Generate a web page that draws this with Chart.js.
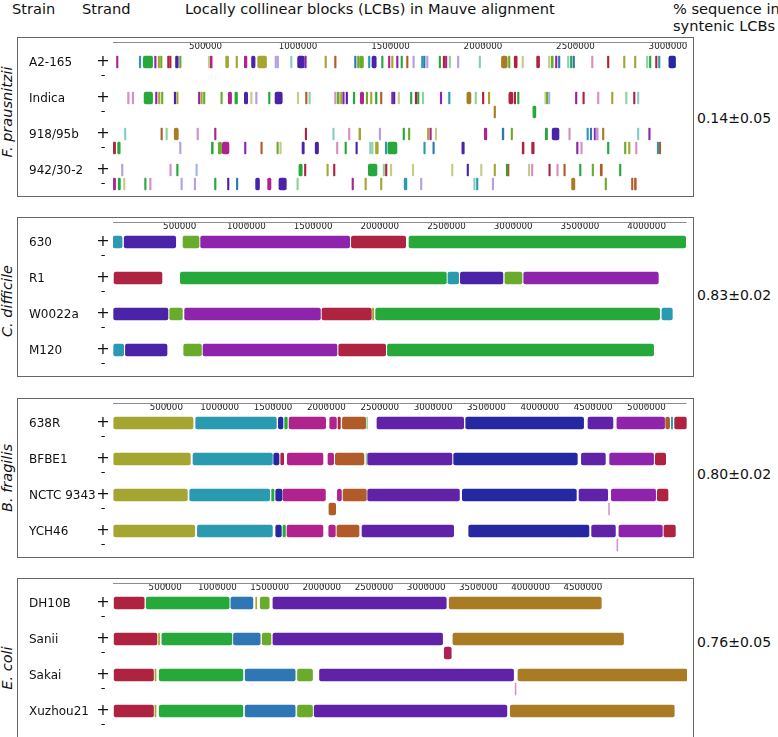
<!DOCTYPE html>
<html>
<head>
<meta charset="utf-8">
<script src="https://cdn.jsdelivr.net/npm/chart.js@4.4.1/dist/chart.umd.min.js"></script>
<style>
  html, body { margin: 0; padding: 0; background: #fff; }
  body { width: 778px; height: 737px; position: relative; overflow: hidden; font-family: "DejaVu Sans", sans-serif; color: #111; }
  .hdr { position: absolute; top: 0; font-size: 14.6px; line-height: 17px; white-space: nowrap; }
  .panel { position: absolute; left: 17px; width: 677px; height: 160px; border: 1px solid #666; box-sizing: border-box; }
  .panel canvas { position: absolute; left: 0; top: 0; }
  .species { position: absolute; font-style: italic; font-size: 14.5px; white-space: nowrap; transform: translate(-50%, -50%) rotate(-90deg); }
  .score { position: absolute; left: 697px; font-size: 14px; white-space: nowrap; transform: translateY(-50%); }
</style>
</head>
<body>
<div class="hdr" style="left:12px">Strain</div>
<div class="hdr" style="left:82px">Strand</div>
<div class="hdr" style="left:185px">Locally collinear blocks (LCBs) in Mauve alignment</div>
<div class="hdr" style="left:673px">% sequence in<br>syntenic LCBs</div>
<div id="panels"></div>
<script>
"use strict";

// LCB colour families used by Mauve (lower case = faint thin slivers)
const PALETTE = {
  G: '#26a83b', g: '#8dd39c', L: '#6bab2c', O: '#a4a631', o: '#c5cc8a',
  I: '#4b23a8', N: '#2628a2', V: '#8f24ac', P: '#6023a8', C: '#ae2340',
  M: '#b0238f', K: '#d58fc2', W: '#b59fe0', T: '#2a9ab0', t: '#86cdc4',
  B: '#2f76b4', b: '#9fb6e6', R: '#b15b2a', D: '#a97b23', Q: '#ab2257'
};

// ---- F. prausnitzii (kb, LCB) ----
const fpStrains = ['A2-165', 'Indica', '918/95b', '942/30-2'];
const fpPlus = [
  [[19,27,'M'],[142,150,'T'],[164,214,'G'],[225,233,'V'],[244,252,'O'],[257,265,'L'],[295,303,'C'],[306,314,'C'],[338,353,'I'],[360,368,'L'],[515,523,'o'],[526,536,'M'],[609,625,'O'],[665,673,'O'],[710,724,'M'],[749,768,'I'],[782,830,'O'],[876,884,'W'],[887,895,'W'],[960,968,'t'],[998,1034,'I'],[1037,1045,'V'],[1146,1154,'O'],[1198,1206,'R'],[1306,1314,'B'],[1322,1330,'L'],[1333,1354,'L'],[1381,1389,'T'],[1400,1423,'I'],[1452,1460,'G'],[1489,1497,'M'],[1506,1514,'O'],[1533,1541,'V'],[1557,1565,'G'],[1587,1595,'R'],[1621,1629,'W'],[1668,1676,'T'],[1679,1687,'B'],[1695,1703,'W'],[1763,1771,'G'],[1785,1793,'C'],[1797,1805,'M'],[1817,1825,'g'],[1862,1870,'W'],[1979,1987,'t'],[2100,2131,'D'],[2138,2146,'L'],[2169,2185,'C'],[2211,2219,'o'],[2290,2306,'C'],[2354,2362,'o'],[2369,2380,'L'],[2392,2400,'V'],[2408,2416,'B'],[2457,2465,'t'],[2473,2481,'G'],[2487,2495,'B'],[2587,2595,'K'],[2673,2681,'C'],[2760,2768,'O'],[2819,2827,'O'],[2884,2892,'g'],[2900,2908,'G'],[2933,2941,'C'],[2949,2957,'T'],[3005,3041,'N']],
  [[79,87,'K'],[104,112,'K'],[168,214,'G'],[230,238,'V'],[246,254,'O'],[262,270,'L'],[331,339,'I'],[344,352,'O'],[462,470,'V'],[475,483,'O'],[489,497,'L'],[583,591,'L'],[623,641,'M'],[659,673,'G'],[710,728,'I'],[744,752,'o'],[771,779,'W'],[841,849,'G'],[876,915,'I'],[996,1004,'o'],[1041,1049,'R'],[1059,1067,'g'],[1198,1206,'K'],[1212,1223,'L'],[1230,1238,'O'],[1242,1250,'V'],[1260,1268,'I'],[1299,1307,'G'],[1337,1355,'M'],[1369,1377,'L'],[1392,1400,'O'],[1419,1427,'G'],[1446,1454,'R'],[1506,1514,'V'],[1516,1524,'I'],[1541,1549,'o'],[1608,1616,'G'],[1634,1642,'C'],[1646,1654,'G'],[1672,1680,'g'],[1769,1777,'V'],[1814,1822,'T'],[1913,1935,'D'],[1957,1965,'g'],[1997,2005,'C'],[2029,2037,'O'],[2140,2162,'C'],[2169,2177,'C'],[2187,2195,'G'],[2334,2342,'o'],[2343,2351,'L'],[2354,2362,'b'],[2500,2508,'V'],[2540,2548,'C'],[2619,2627,'K'],[2695,2703,'O'],[2771,2779,'g'],[2814,2822,'C'],[2835,2843,'t']],
  [[62,70,'t'],[259,267,'R'],[286,294,'g'],[331,353,'D'],[454,462,'K'],[549,557,'M'],[1039,1047,'C'],[1188,1196,'t'],[1273,1281,'K'],[1329,1339,'O'],[1439,1447,'W'],[1568,1576,'G'],[1597,1605,'L'],[1700,1708,'O'],[1713,1721,'M'],[1742,1750,'o'],[2007,2021,'M'],[2104,2113,'B'],[2152,2160,'L'],[2337,2349,'G'],[2374,2411,'I'],[2464,2472,'K'],[2562,2570,'T'],[2580,2588,'B'],[2601,2609,'V'],[2610,2616,'W'],[2617,2623,'K'],[2646,2654,'D'],[2835,2843,'t'],[2896,2904,'V']],
  [[46,54,'W'],[307,315,'K'],[344,352,'G'],[448,456,'b'],[1005,1023,'G'],[1035,1043,'C'],[1156,1164,'O'],[1192,1200,'C'],[1380,1427,'G'],[1460,1468,'g'],[1473,1481,'C'],[1499,1507,'o'],[1618,1626,'o'],[1830,1838,'o'],[1914,1922,'I'],[1987,1995,'o'],[2060,2068,'O'],[2126,2134,'G'],[2135,2141,'R'],[2245,2253,'o'],[2262,2270,'K'],[2356,2364,'C'],[2399,2407,'K'],[2437,2445,'R'],[2522,2530,'G'],[2590,2598,'L'],[2634,2645,'R'],[2738,2746,'G']]
];
const fpMinus = [
  [],
  [[2060,2068,'D'],[2270,2286,'G']],
  [[2,14,'C'],[25,39,'G'],[360,368,'W'],[532,542,'G'],[569,587,'L'],[591,627,'M'],[711,719,'V'],[799,807,'R'],[886,894,'L'],[902,910,'o'],[1022,1034,'I'],[1093,1111,'I'],[1208,1216,'K'],[1254,1262,'G'],[1313,1321,'I'],[1387,1395,'t'],[1398,1406,'g'],[1419,1434,'O'],[1472,1480,'T'],[1486,1535,'G'],[1680,1688,'T'],[1729,1737,'B'],[1886,1899,'I'],[2212,2222,'C'],[2263,2277,'C'],[2506,2514,'V'],[2529,2537,'K'],[2673,2681,'G'],[2765,2773,'L'],[2787,2795,'O'],[2825,2833,'K'],[2942,2950,'T'],[2953,2961,'R']],
  [[2,14,'M'],[28,40,'G'],[57,65,'o'],[171,179,'G'],[198,206,'K'],[367,375,'W'],[439,447,'W'],[549,557,'G'],[619,627,'I'],[667,675,'B'],[771,792,'I'],[836,854,'M'],[897,937,'I'],[994,1002,'g'],[1292,1300,'M'],[1362,1370,'O'],[1446,1454,'O'],[1574,1589,'T'],[1662,1670,'W'],[1950,1958,'t'],[1965,1973,'T'],[2050,2058,'W'],[2479,2497,'D'],[2660,2668,'L'],[2803,2811,'R'],[2819,2829,'R']]
];
const fpTicks = [500000, 1000000, 1500000, 2000000, 2500000, 3000000];

// ---- C. difficile ----
const cdStrains = ['630', 'R1', 'W0022a', 'M120'];
const cdPlus = [
  [[2,68,'T'],[84,470,'I'],[525,645,'L'],[657,1774,'V'],[1787,2194,'C'],[2219,4293,'G']],
  [[8,367,'C'],[505,2499,'G'],[2511,2591,'T'],[2604,2923,'I'],[2938,3066,'L'],[3079,4088,'V']],
  [[5,412,'I'],[425,520,'L'],[537,1555,'V'],[1567,1937,'C'],[1945,1955,'O'],[1969,4098,'G'],[4115,4193,'T']],
  [[5,80,'T'],[93,405,'I'],[530,663,'L'],[675,1679,'V'],[1692,2044,'C'],[2057,4053,'G']]
];
const cdMinus = [[], [], [], []];
const cdTicks = [500000, 1000000, 1500000, 2000000, 2500000, 3000000, 3500000, 4000000];

// ---- B. fragilis ----
const bfStrains = ['638R', 'BFBE1', 'NCTC 9343', 'YCH46'];
const bfPlus = [
  [[7,750,'O'],[775,1531,'T'],[1550,1593,'N'],[1609,1634,'G'],[1650,1993,'M'],[2031,2094,'M'],[2109,2131,'C'],[2150,2368,'R'],[2378,2386,'g'],[2474,3287,'P'],[3306,4411,'N'],[4452,4686,'P'],[4723,5170,'V'],[5180,5217,'R'],[5233,5245,'T'],[5264,5374,'C']],
  [[7,725,'O'],[750,1494,'T'],[1506,1556,'N'],[1572,1600,'C'],[1634,1968,'M'],[2015,2068,'M'],[2084,2352,'R'],[2372,2380,'g'],[2387,3177,'P'],[3193,4352,'N'],[4390,4615,'P'],[4655,5067,'V'],[5083,5180,'C']],
  [[7,697,'O'],[719,1469,'T'],[1487,1509,'G'],[1525,1584,'N'],[1593,1991,'M'],[2103,2141,'M'],[2156,2375,'R'],[2387,3247,'P'],[3274,4343,'N'],[4368,4637,'P'],[4671,5086,'V'],[5102,5202,'C']],
  [[7,766,'O'],[791,1494,'T'],[1525,1578,'N'],[1593,1616,'G'],[1631,1968,'M'],[2022,2084,'M'],[2099,2306,'R'],[2334,3193,'P'],[3334,4461,'N'],[4486,4709,'P'],[4742,5149,'V'],[5164,5271,'C']]
];
const bfMinus = [
  [],
  [],
  [[2024,2087,'R'],[4645,4653,'K']],
  [[4723,4731,'K']]
];
const bfTicks = [500000, 1000000, 1500000, 2000000, 2500000, 3000000, 3500000, 4000000, 4500000, 5000000];

// ---- E. coli ----
const ecStrains = ['DH10B', 'Sanii', 'Sakai', 'Xuzhou21'];
const ecPlus = [
  [[11,299,'C'],[318,1113,'G'],[1129,1340,'B'],[1367,1377,'O'],[1410,1496,'L'],[1532,3192,'P'],[3220,4677,'D']],
  [[11,421,'C'],[436,446,'O'],[468,1139,'G'],[1154,1410,'B'],[1429,1513,'L'],[1532,3157,'P'],[3256,4890,'D']],
  [[11,388,'C'],[402,412,'O'],[443,1244,'G'],[1266,1745,'B'],[1767,1911,'L'],[1978,3837,'P'],[3879,5497,'D']],
  [[11,388,'C'],[402,412,'O'],[443,1244,'G'],[1266,1745,'B'],[1767,1911,'L'],[1927,3773,'P'],[3805,5376,'D']]
];
const ecMinus = [
  [],
  [[3173,3240,'Q']],
  [[3852,3860,'K']],
  []
];
const ecTicks = [500000, 1000000, 1500000, 2000000, 2500000, 3000000, 3500000, 4000000, 4500000];

// reference genome lengths (bp) and shown range
const refLengths = [3103000, 4300000, 5375000, 4686000];
const viewMax = [3103000, 4303000, 5380000, 5498000];
const species = ['F. prausnitzii', 'C. difficile', 'B. fragilis', 'E. coli'];
const scores = ['0.14±0.05', '0.83±0.02', '0.80±0.02', '0.76±0.05'];

const panelTops = [37, 217, 397.5, 577.5];
const speciesY = [112, 301, 478, 668];
const scoreY = [118, 295, 474, 642];

function toBars(strains, rows) {
  const data = [], colors = [];
  rows.forEach((blocks, i) => {
    blocks.forEach(b => {
      data.push({ y: strains[i], x: [b[0] * 1000, b[1] * 1000] });
      colors.push(PALETTE[b[2]]);
    });
  });
  return { data, colors };
}

function makePanel(n, strains, plus, minus, ticks) {
  const holder = document.getElementById('panels');
  const box = document.createElement('div');
  box.className = 'panel';
  box.style.top = panelTops[n] + 'px';
  const cv = document.createElement('canvas');
  cv.width = 675;
  cv.height = 158;
  box.appendChild(cv);
  holder.appendChild(box);

  const sp = document.createElement('div');
  sp.className = 'species';
  sp.style.left = '7px';
  sp.style.top = speciesY[n] + 'px';
  sp.textContent = species[n];
  holder.appendChild(sp);

  const sc = document.createElement('div');
  sc.className = 'score';
  sc.style.top = scoreY[n] + 'px';
  sc.textContent = scores[n];
  holder.appendChild(sc);

  const p = toBars(strains, plus);
  const m = toBars(strains, minus);

  const decor = {
    id: 'decor',
    afterDraw(chart) {
      const ctx = chart.ctx;
      const xs = chart.scales.x, ys = chart.scales.y;
      ctx.save();
      ctx.fillStyle = '#111';
      ctx.textBaseline = 'middle';
      strains.forEach((name, i) => {
        const yc = ys.getPixelForValue(i);
        ctx.font = '12px "DejaVu Sans"';
        ctx.textAlign = 'left';
        ctx.fillText(name, 11, yc - 6);
        ctx.textAlign = 'center';
        ctx.font = '16px "DejaVu Sans"';
        ctx.fillText('+', 85, yc - 7);
        ctx.font = '13px "DejaVu Sans"';
        ctx.fillText('-', 85, yc + 7);
      });
      const top = Math.round(xs.top) + 0.5;
      ctx.strokeStyle = '#8c8c8c';
      ctx.lineWidth = 1;
      ctx.beginPath();
      ctx.moveTo(xs.getPixelForValue(0), top);
      ctx.lineTo(xs.getPixelForValue(refLengths[n]), top);
      xs.ticks.forEach(t => {
        const px = Math.round(xs.getPixelForValue(t.value)) + 0.5;
        ctx.moveTo(px, top);
        ctx.lineTo(px, top + 3);
      });
      ctx.stroke();
      ctx.restore();
    }
  };

  new Chart(cv, {
    type: 'bar',
    data: {
      labels: strains,
      datasets: [
        { label: '+', stack: 'plus', data: p.data, backgroundColor: p.colors },
        { label: '-', stack: 'minus', data: m.data, backgroundColor: m.colors }
      ]
    },
    options: {
      indexAxis: 'y',
      responsive: false,
      animation: false,
      devicePixelRatio: 1,
      layout: { padding: { left: 95, right: 6, top: 3.5, bottom: 1 } },
      datasets: {
        bar: { barThickness: 14, maxBarThickness: 12, borderRadius: 2, borderSkipped: false, borderWidth: 0 }
      },
      plugins: { legend: { display: false }, tooltip: { enabled: false } },
      scales: {
        x: {
          type: 'linear',
          position: 'top',
          min: 0,
          max: viewMax[n],
          grid: { display: false, drawTicks: false },
          border: { display: false },
          afterFit: s => { s.height = 9.5; },
          afterBuildTicks: s => { s.ticks = ticks.map(v => ({ value: v })); },
          ticks: {
            autoSkip: false,
            maxRotation: 0,
            minRotation: 0,
            padding: 0,
            color: '#222',
            font: { family: 'DejaVu Sans', size: 8.7, lineHeight: 1 },
            callback: v => String(v)
          }
        },
        y: { type: 'category', display: false, offset: true }
      }
    },
    plugins: [decor]
  });
}

makePanel(0, fpStrains, fpPlus, fpMinus, fpTicks);
makePanel(1, cdStrains, cdPlus, cdMinus, cdTicks);
makePanel(2, bfStrains, bfPlus, bfMinus, bfTicks);
makePanel(3, ecStrains, ecPlus, ecMinus, ecTicks);
</script>
</body>
</html>
